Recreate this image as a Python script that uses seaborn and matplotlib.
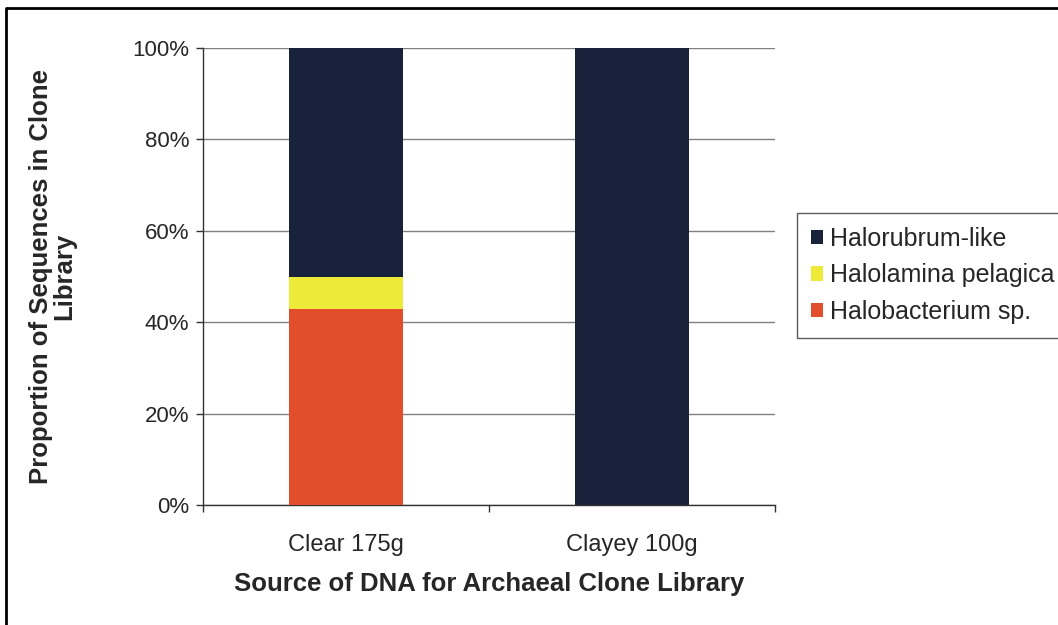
import matplotlib
matplotlib.use("Agg")
import matplotlib.pyplot as plt
import seaborn as sns
import pandas as pd
import numpy as np
from matplotlib.lines import Line2D
from matplotlib.patches import Patch

categories = ["Clear 175g", "Clayey 100g"]
series_names = ["Halorubrum-like", "Halolamina pelagica", "Halobacterium sp."]
halobacterium = [42.9, 0.0]
halolamina = [7.1, 0.0]
halorubrum = [50.0, 100.0]
colors = {"Halorubrum-like": "#18223A", "Halolamina pelagica": "#EEEA3A", "Halobacterium sp.": "#E24E2B"}
y_ticks = [0, 20, 40, 60, 80, 100]

sns.set_theme(style="white")
plt.rcParams['font.family'] = ['Liberation Sans', 'DejaVu Sans']

fig = plt.figure(figsize=(10.58, 6.25), dpi=100)
ax = fig.add_axes([203/1058, 1-505/625, (775-203)/1058, (505-48)/625])

cum1 = np.array(halobacterium)
cum2 = cum1 + np.array(halolamina)
cum3 = cum2 + np.array(halorubrum)
layers = [("Halorubrum-like", cum3), ("Halolamina pelagica", cum2), ("Halobacterium sp.", cum1)]
for name, vals in layers:
    df = pd.DataFrame({"cat": categories, "val": vals})
    sns.barplot(data=df, x="cat", y="val", color=colors[name], width=0.4,
                saturation=1, ax=ax, linewidth=0, zorder=3)

ax.set_xlim(-0.5, 1.5)
ax.set_ylim(0, 100)
ax.set_yticks(y_ticks)
ax.set_yticklabels([f"{t}%" for t in y_ticks], fontsize=16)
ax.yaxis.grid(True, color="#808080", linewidth=1)
ax.set_axisbelow(True)
for s in ["top", "right"]:
    ax.spines[s].set_visible(False)
for s in ["left", "bottom"]:
    ax.spines[s].set_color("#333333")
    ax.spines[s].set_linewidth(1)
ax.tick_params(axis="y", direction="out", length=5, width=1, color="#333333", left=True, pad=5)
ax.tick_params(axis="x", which="major", length=0, labelsize=17, pad=21)
ax.set_xticks([-0.5, 0.5, 1.5], minor=True)
ax.tick_params(axis="x", which="minor", direction="out", length=5, width=1, color="#333333", bottom=True)

ax.set_xlabel("Source of DNA for Archaeal Clone Library", fontsize=18.5, fontweight="bold", va="top")
ax.xaxis.set_label_coords(0.5, (505-572)/457)
ax.set_ylabel("Proportion of Sequences in Clone\nLibrary", fontsize=18.5, fontweight="bold",
              linespacing=0.95)
ax.yaxis.set_label_coords((76-203)/572, 0.5)

handles = [Patch(facecolor=colors[n], edgecolor="none") for n in series_names]
leg = fig.legend(handles, series_names, loc="upper left", bbox_to_anchor=(797/1058, 1-213/625),
                 fontsize=18, frameon=True, fancybox=False, handlelength=0.5, handleheight=0.5,
                 handletextpad=0.25, labelspacing=0.5, borderpad=0.55, borderaxespad=0)
leg.get_frame().set_edgecolor("#333333")
leg.get_frame().set_linewidth(1)

fig.add_artist(Line2D([6/1058, 6/1058, 1.0], [0.0, 1-8/625, 1-8/625], transform=fig.transFigure,
                      color="black", linewidth=2))

fig.savefig("out.png", dpi=100, facecolor="white")
